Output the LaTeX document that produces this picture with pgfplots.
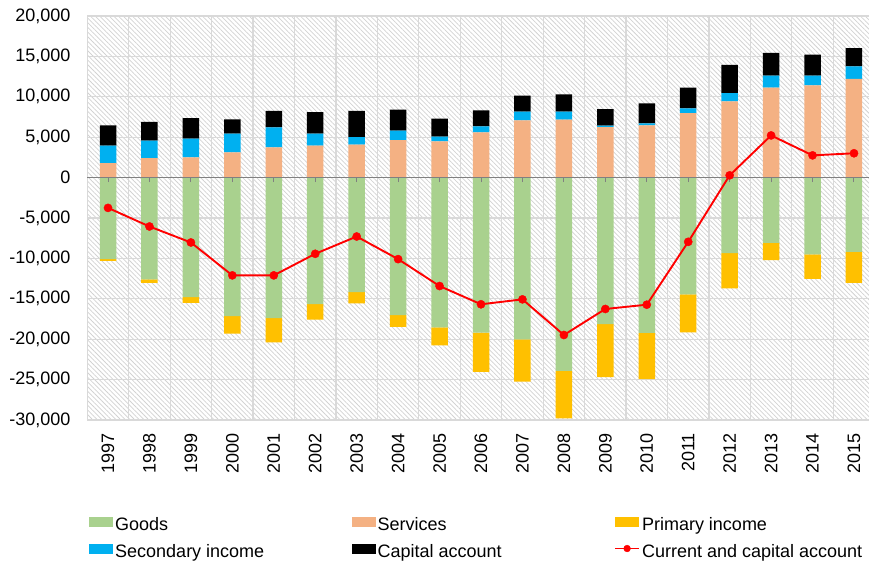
\documentclass[border=0pt]{standalone}
\usepackage{pgfplots}
\pgfplotsset{compat=1.18}
\usepackage{pgfplotstable}
\usepackage{fontspec}
\setmainfont{Liberation Sans}
\usetikzlibrary{patterns.meta}

\definecolor{cgoods}{HTML}{A9D18E}
\definecolor{cserv}{HTML}{F4B183}
\definecolor{cprim}{HTML}{FFC000}
\definecolor{csec}{HTML}{00B0F0}
\definecolor{cgrid}{HTML}{D9D9D9}
\definecolor{chatch}{HTML}{D2D2D2}
\definecolor{czero}{HTML}{808080}
\definecolor{cline}{HTML}{FF0000}

\newcommand\lf{\fontsize{18}{21.6}\selectfont}

\pgfplotstableread{
x goods services primary secondary capital total
0  -10090 1800  -210  2150 2510 -3750
1  -12600 2420  -420  2150 2330 -6050
2  -14780 2510  -710  2310 2540 -8030
3  -17130 3120  -2190 2310 1770 -12100
4  -17380 3740  -3000 2470 2060 -12100
5  -15650 3950  -1940 1480 2670 -9430
6  -14170 4080  -1390 930  3260 -7290
7  -17010 4640  -1480 1160 2600 -10090
8  -18530 4480  -2220 580  2230 -13420
9  -19190 5590  -4860 740  1980 -15680
10 -20010 7080  -5230 1070 1980 -15070
11 -23920 7160  -5890 990  2140 -19480
12 -18120 6250  -6580 170  2050 -16260
13 -19230 6460  -5720 250  2470 -15730
14 -14450 7980  -4690 580  2590 -7950
15 -9350  9420  -4360 1030 3500 280
16 -8070  11150 -2140 1480 2810 5220
17 -9510  11400 -3010 1230 2600 2750
18 -9190  12230 -3830 1520 2260 3010
}\bop

\pgfplotsset{
  myax/.style={
    at={(87.3pt,145pt)}, anchor=south west,
    scale only axis, width=787.4pt, height=404pt,
    xmin=-0.5, xmax=18.5, ymin=-30000, ymax=20000,
  },
  boxleg/.style={legend image code/.code={\fill[##1] (0pt,-3pt) rectangle (24pt,7pt);}},
  linleg/.style={legend image code/.code={\draw[mark repeat=2, mark phase=2, ##1] plot coordinates {(0pt,2pt) (12pt,2pt) (24pt,2pt)};}},
}

\begin{document}
\begin{tikzpicture}
% axis 1: background, grid, labels, negative stack
\begin{axis}[myax,
  ybar stacked, bar width=16.5pt,
  axis background/.style={pattern={Lines[angle=-45,distance=3.3pt,line width=0.75pt]}, pattern color=chatch},
  ytick={-30000,-25000,...,20000},
  xtick={0,...,18},
  xticklabels={1997,1998,1999,2000,2001,2002,2003,2004,2005,2006,2007,2008,2009,2010,2011,2012,2013,2014,2015},
  minor xtick={-0.5,0.5,...,18.5},
  major tick length=0pt, minor tick length=0pt,
  ymajorgrids, xminorgrids,
  grid style={cgrid, line width=1.2pt},
  minor grid style={cgrid, line width=1.2pt},
  axis line style={cgrid, line width=1.2pt},
  every tick label/.append style={font=\lf},
  /pgf/number format/assume math mode=true,
  /pgf/number format/1000 sep={,},
  scaled y ticks=false,
  yticklabel style={anchor=east, inner sep=0pt, xshift=-16.6pt},
  xticklabel style={yshift=-13pt, rotate=90, anchor=east, inner sep=0pt},
]
\addplot[fill=cgoods, draw=none] table[x=x,y=goods]{\bop};
\addplot[fill=cprim, draw=none] table[x=x,y=primary]{\bop};
\end{axis}
% axis 2: positive stack
\begin{axis}[myax, hide axis, ybar stacked, bar width=16.5pt]
\addplot[fill=cserv, draw=none] table[x=x,y=services]{\bop};
\addplot[fill=csec, draw=none] table[x=x,y=secondary]{\bop};
\addplot[fill=black, draw=none] table[x=x,y=capital]{\bop};
\end{axis}
% axis 3: zero line, ticks, line, legend
\begin{axis}[myax,
  axis x line=middle, axis y line=none,
  xtick={0,...,18}, xticklabels={}, ytick=\empty,
  x axis line style={czero, line width=1.2pt, -},
  xtick style={czero, line width=1pt},
  major tick length=4.5pt, tick align=outside,
  legend style={at={(0.00216,-0.2302)}, anchor=north west, draw=none, fill=none,
    inner sep=0pt, font=\lf, row sep=6.4pt,
    cells={inner sep=0pt},
    /tikz/every odd column/.style={column sep=0pt}},
  legend columns=3, legend cell align=left,
]
\addlegendimage{fill=cgoods, draw=none, boxleg}
\addlegendentry{\makebox[234.5pt][l]{\strut Goods}}
\addlegendimage{fill=cserv, draw=none, boxleg}
\addlegendentry{\makebox[234.5pt][l]{\strut Services}}
\addlegendimage{fill=cprim, draw=none, boxleg}
\addlegendentry{\makebox[222pt][l]{\strut Primary income}}
\addlegendimage{fill=csec, draw=none, boxleg}
\addlegendentry{\makebox[234.5pt][l]{\strut Secondary income}}
\addlegendimage{fill=black, draw=none, boxleg}
\addlegendentry{\makebox[234.5pt][l]{\strut Capital account}}
\addlegendimage{cline, line width=1.8pt, mark=*, mark size=3.4pt, mark options={solid, fill=cline, draw=cline, line width=0.4pt}, linleg}
\addlegendentry{\makebox[222pt][l]{\strut Current and capital account}}
\addplot[forget plot, cline, line width=1.9pt, mark=*, mark size=4.1pt,
  mark options={solid, fill=cline, draw=cline, line width=0.4pt}]
  table[x=x,y=total]{\bop};
\end{axis}
\pgfresetboundingbox
\useasboundingbox (0pt,0pt) rectangle (869pt,565pt);
\end{tikzpicture}
\end{document}
